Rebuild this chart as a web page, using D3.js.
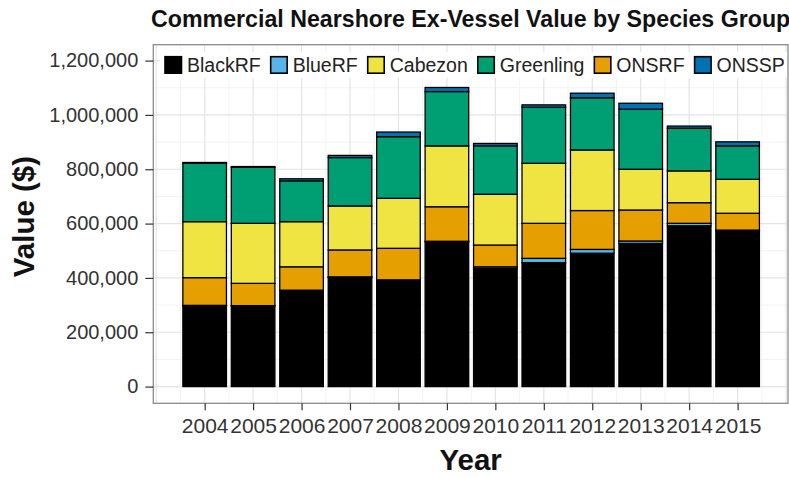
<!DOCTYPE html>
<html>
<head>
<meta charset="utf-8">
<script src="https://cdn.jsdelivr.net/npm/d3@7"></script>
<style>
  html, body { margin: 0; padding: 0; background: #fff; }
  svg { display: block; font-family: "Liberation Sans", Arial, sans-serif; }
</style>
</head>
<body>
<svg id="chart" width="789" height="477"></svg>
<script>
// ---- data ----
const years = [2004, 2005, 2006, 2007, 2008, 2009, 2010, 2011, 2012, 2013, 2014, 2015];
const BlackRF   = [297000, 297000, 353000, 402000, 390000, 533000, 435000, 456000, 491000, 527000, 592000, 574000];
const BlueRF    = [2000, 1000, 2000, 2000, 3000, 2000, 6000, 16000, 14000, 9000, 9000, 2000];
const ONSRF     = [102000, 82000, 86000, 99000, 116000, 127000, 80000, 129000, 143000, 114000, 76000, 62000];
const Cabezon   = [206000, 221000, 166000, 162000, 184000, 224000, 187000, 221000, 223000, 150000, 117000, 125000];
const Greenling = [215000, 206000, 150000, 178000, 227000, 200000, 178000, 206000, 192000, 221000, 157000, 123000];
const ONSSP     = [3000, 3000, 8000, 8000, 17000, 15000, 9000, 9000, 17000, 22000, 8000, 15000];
const legendOrder = ["BlackRF", "BlueRF", "Cabezon", "Greenling", "ONSRF", "ONSSP"];
const stackOrder  = ["BlackRF", "BlueRF", "ONSRF", "Cabezon", "Greenling", "ONSSP"];
const yTicks = [0, 200000, 400000, 600000, 800000, 1000000, 1200000];
const titleText = "Commercial Nearshore Ex-Vessel Value by Species Group";
const xTitle = "Year";
const yTitle = "Value ($)";

const colors = {
  BlackRF: "#000000", BlueRF: "#56B4E9", Cabezon: "#F0E442",
  Greenling: "#009E73", ONSRF: "#E69F00", ONSSP: "#0072B2"
};

const series = { BlackRF, BlueRF, ONSRF, Cabezon, Greenling, ONSSP };
const rows = years.map((yr, i) => {
  const r = { year: yr };
  stackOrder.forEach(k => r[k] = series[k][i]);
  return r;
});

// ---- layout ----
const P = { left: 153.3, right: 788, top: 44.7, bottom: 403.3 };
const svg = d3.select("#chart");

const x = d3.scaleLinear().domain([2002.94, 2016.04]).range([P.left, P.right]);
const y = d3.scaleLinear().domain([-61500, 1258500]).range([P.bottom, P.top]);
const step = x(2005) - x(2004);
const barW = step * 0.9;

// panel background
svg.append("rect").attr("x", P.left).attr("y", P.top)
  .attr("width", P.right - P.left).attr("height", P.bottom - P.top).attr("fill", "#fff");

const grid = svg.append("g");
// minor grid
const yMinor = d3.range(100000, 1300000, 200000).filter(v => y(v) > P.top && y(v) < P.bottom);
const xMinor = d3.range(2003.5, 2016, 1).filter(v => x(v) > P.left && x(v) < P.right);
grid.selectAll(".ymin").data(yMinor).join("line")
  .attr("x1", P.left).attr("x2", P.right).attr("y1", d => y(d)).attr("y2", d => y(d))
  .attr("stroke", "#f3f3f3").attr("stroke-width", 1);
grid.selectAll(".xmin").data(xMinor).join("line")
  .attr("y1", P.top).attr("y2", P.bottom).attr("x1", d => x(d)).attr("x2", d => x(d))
  .attr("stroke", "#f3f3f3").attr("stroke-width", 1);
// major grid
const xMajor = d3.range(2003, 2017, 1).filter(v => x(v) > P.left && x(v) < P.right);
grid.selectAll(".ymaj").data(yTicks).join("line")
  .attr("x1", P.left).attr("x2", P.right).attr("y1", d => y(d)).attr("y2", d => y(d))
  .attr("stroke", "#e4e4e4").attr("stroke-width", 1.2);
grid.selectAll(".xmaj").data(xMajor).join("line")
  .attr("y1", P.top).attr("y2", P.bottom).attr("x1", d => x(d)).attr("x2", d => x(d))
  .attr("stroke", "#e4e4e4").attr("stroke-width", 1.2);

// bars
const stacked = d3.stack().keys(stackOrder)(rows);
const gBars = svg.append("g");
stacked.forEach(layer => {
  gBars.append("g").selectAll("rect").data(layer).join("rect")
    .attr("x", d => x(d.data.year) - barW / 2)
    .attr("width", barW)
    .attr("y", d => y(d[1]))
    .attr("height", d => y(d[0]) - y(d[1]))
    .attr("fill", colors[layer.key])
    .attr("stroke", "#000")
    .attr("stroke-width", 1.3);
});

// legend
const legG = svg.append("g");
const legBg = legG.append("rect").attr("fill", "#fff");
let lx = 165;
const keyY = 56.7, keyS = 16.5;
legendOrder.forEach(k => {
  legG.append("rect").attr("x", lx).attr("y", keyY).attr("width", keyS).attr("height", keyS)
    .attr("fill", colors[k]).attr("stroke", "#000").attr("stroke-width", 1.6);
  const t = legG.append("text").attr("x", lx + keyS + 5.5).attr("y", keyY + keyS / 2)
    .attr("dy", "0.36em").attr("font-size", 19.5).attr("fill", "#222").text(k);
  lx = lx + keyS + 5.5 + t.node().getComputedTextLength() + 10;
});
legBg.attr("x", 160).attr("y", 52).attr("width", lx - 160).attr("height", 26);
legG.raise();

// panel border
svg.append("rect").attr("x", P.left).attr("y", P.top)
  .attr("width", P.right - P.left).attr("height", P.bottom - P.top)
  .attr("fill", "none").attr("stroke", "#8a8a8a").attr("stroke-width", 1.3);

// axes
const fmt = d3.format(",");
const yAxis = d3.axisLeft(y).tickValues(yTicks).tickFormat(fmt).tickSize(8).tickPadding(7);
const gy = svg.append("g").attr("transform", `translate(${P.left},0)`).call(yAxis);
gy.select(".domain").remove();
gy.selectAll(".tick line").attr("stroke", "#333").attr("stroke-width", 1.2);
gy.selectAll(".tick text").attr("font-size", 20).attr("fill", "#333")
  .attr("font-family", '"Liberation Sans", Arial, sans-serif');

const xAxis = d3.axisBottom(x).tickValues(years).tickFormat(d3.format("d")).tickSize(7).tickPadding(8);
const gx = svg.append("g").attr("transform", `translate(0,${P.bottom})`).call(xAxis);
gx.select(".domain").remove();
gx.selectAll(".tick line").attr("stroke", "#333").attr("stroke-width", 1.2);
gx.selectAll(".tick text").attr("font-size", 21).attr("fill", "#333")
  .attr("font-family", '"Liberation Sans", Arial, sans-serif');

// titles
const cx = (P.left + P.right) / 2;
svg.append("text").attr("x", cx).attr("y", 26.5).attr("text-anchor", "middle")
  .attr("font-size", 23.2).attr("font-weight", "bold").attr("fill", "#111").text(titleText);
svg.append("text").attr("x", cx).attr("y", 470).attr("text-anchor", "middle")
  .attr("font-size", 29.5).attr("font-weight", "bold").attr("fill", "#111").text(xTitle);
svg.append("text").attr("transform", `translate(34,${(y(0) + y(1200000)) / 2 - 7}) rotate(-90)`)
  .attr("text-anchor", "middle").attr("font-size", 29.5).attr("font-weight", "bold")
  .attr("fill", "#111").text(yTitle);
</script>
</body>
</html>
